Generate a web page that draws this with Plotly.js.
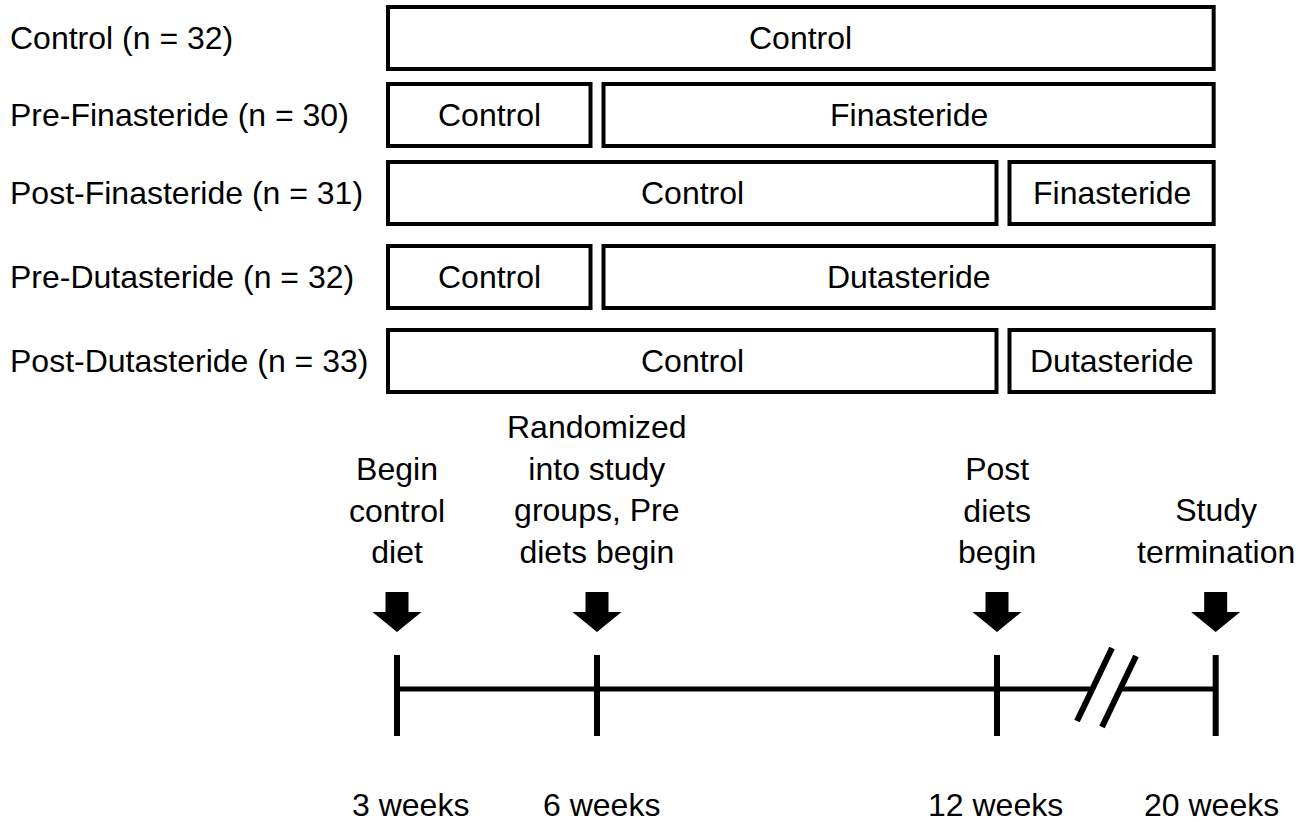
<!DOCTYPE html>
<html>
<head>
<meta charset="utf-8">
<script src="https://cdn.plot.ly/plotly-3.0.1.min.js"></script>
<style>html,body{margin:0;padding:0;background:#fff;}#chart{width:1310px;height:822px;}</style>
</head>
<body>
<div id="chart"></div>
<script>
// ---------- DATA ----------
const groups = ['Control (n = 32)', 'Pre-Finasteride (n = 30)', 'Post-Finasteride (n = 31)', 'Pre-Dutasteride (n = 32)', 'Post-Dutasteride (n = 33)'];
const phaseLabels = [['Control'], ['Control', 'Finasteride'], ['Control', 'Finasteride'], ['Control', 'Dutasteride'], ['Control', 'Dutasteride']];
const phaseWeeks = [[3, 20], [3, 6, 20], [3, 12, 20], [3, 6, 20], [3, 12, 20]];
const milestoneWeeks = [3, 6, 12, 20];
const milestoneNotes = [
  ['Begin', 'control', 'diet'],
  ['Randomized', 'into study', 'groups, Pre', 'diets begin'],
  ['Post', 'diets', 'begin'],
  ['Study', 'termination']
];
const weekLabels = ['3 weeks', '6 weeks', '12 weeks', '20 weeks'];

// ---------- LAYOUT CONSTANTS (geometry / style only) ----------
const W = 1310, H = 822;
const PX_PER_WEEK = 66.667;      // horizontal scale of the timeline
const WEEK3_PX = 397;            // where the first milestone sits
const BREAK_WEEK = 12, BREAK_FACTOR = 0.41; // axis break compresses weeks after 12
const X0 = 3 - WEEK3_PX / PX_PER_WEEK;
const X1 = 3 + (W - WEEK3_PX) / PX_PER_WEEK;
const rowTop = [7, 84, 162, 246, 330];
const ROW_H = 62;
const BOX_START_OFF = -9, BOX_END_OFF = -2, BOX_GAP = 13;
const BOUNDARY_SHIFT = {6: 0, 12: 6}; // small drawing offsets of the box splits
const LINE_Y = 689, TICK_TOP = 655, TICK_BOT = 736;
const ARROW = {top: 592, shaftBot: 612, tip: 632, shaftHalf: 11.5, headHalf: 24.5};
const NOTE_BASE_Y = 572;
const WEEK_LABEL_Y = 805;
const weekLabelShift = [13, 4, -2, -4];
const FONT = {family: 'Liberation Sans, Arial, sans-serif', size: 32, color: '#000'};

function wx(week) { // week -> axis value (with break after 12 weeks)
  return week <= BREAK_WEEK ? week : BREAK_WEEK + (week - BREAK_WEEK) * BREAK_FACTOR;
}
function pxOff(p) { return p / PX_PER_WEEK; } // pixel offset -> axis units
function pxAbs(p) { return X0 + p / PX_PER_WEEK; }

const shapes = [];
const annotations = [];

// group rows
groups.forEach((g, i) => {
  const y0 = rowTop[i], y1 = rowTop[i] + ROW_H, yc = (y0 + y1) / 2;
  annotations.push({x: 8 / W, xref: 'paper', y: yc, yref: 'y', text: g, showarrow: false,
    xanchor: 'left', yanchor: 'middle', font: FONT});
  const wks = phaseWeeks[i];
  for (let k = 0; k < wks.length - 1; k++) {
    let xa = wx(wks[k]), xb = wx(wks[k + 1]);
    xa += (k === 0) ? pxOff(BOX_START_OFF) : pxOff(BOX_GAP / 2 + (BOUNDARY_SHIFT[wks[k]] || 0));
    xb += (k === wks.length - 2) ? pxOff(BOX_END_OFF) : pxOff(-BOX_GAP / 2 + (BOUNDARY_SHIFT[wks[k + 1]] || 0));
    shapes.push({type: 'rect', xref: 'x', yref: 'y', x0: xa, x1: xb, y0: y0, y1: y1,
      line: {color: '#000', width: 4}, fillcolor: 'rgba(0,0,0,0)'});
    annotations.push({x: (xa + xb) / 2, y: yc, xref: 'x', yref: 'y', text: phaseLabels[i][k],
      showarrow: false, xanchor: 'center', yanchor: 'middle', font: FONT});
  }
});

// timeline line with break
const breakL = pxAbs(1090), breakR = pxAbs(1119);
shapes.push({type: 'line', xref: 'x', yref: 'y', x0: wx(milestoneWeeks[0]), x1: breakL, y0: LINE_Y, y1: LINE_Y, line: {color: '#000', width: 5}});
shapes.push({type: 'line', xref: 'x', yref: 'y', x0: breakR, x1: wx(milestoneWeeks[3]), y0: LINE_Y, y1: LINE_Y, line: {color: '#000', width: 5}});
// break slashes
shapes.push({type: 'line', xref: 'x', yref: 'y', x0: pxAbs(1112), y0: 648, x1: pxAbs(1077), y1: 721, line: {color: '#000', width: 6}});
shapes.push({type: 'line', xref: 'x', yref: 'y', x0: pxAbs(1136), y0: 656, x1: pxAbs(1102), y1: 727, line: {color: '#000', width: 6}});

// milestones
milestoneWeeks.forEach((w, i) => {
  const cx = wx(w);
  shapes.push({type: 'line', xref: 'x', yref: 'y', x0: cx, x1: cx, y0: TICK_TOP, y1: TICK_BOT, line: {color: '#000', width: 6}});
  const sh = pxOff(ARROW.shaftHalf), hh = pxOff(ARROW.headHalf);
  const path = `M ${cx - sh},${ARROW.top} L ${cx + sh},${ARROW.top} L ${cx + sh},${ARROW.shaftBot} L ${cx + hh},${ARROW.shaftBot} L ${cx},${ARROW.tip} L ${cx - hh},${ARROW.shaftBot} L ${cx - sh},${ARROW.shaftBot} Z`;
  shapes.push({type: 'path', xref: 'x', yref: 'y', path: path, fillcolor: '#000', line: {color: '#000', width: 0}});
  annotations.push({x: cx, y: NOTE_BASE_Y, xref: 'x', yref: 'y', text: milestoneNotes[i].join('<br>'),
    showarrow: false, xanchor: 'center', yanchor: 'bottom', align: 'center', font: FONT});
  annotations.push({x: cx + pxOff(weekLabelShift[i]), y: WEEK_LABEL_Y, xref: 'x', yref: 'y', text: weekLabels[i],
    showarrow: false, xanchor: 'center', yanchor: 'middle', font: FONT});
});

const layout = {
  width: W, height: H,
  margin: {l: 0, r: 0, t: 0, b: 0, pad: 0},
  paper_bgcolor: '#fff', plot_bgcolor: '#fff',
  showlegend: false,
  xaxis: {range: [X0, X1], visible: false, fixedrange: true},
  yaxis: {range: [H, 0], visible: false, fixedrange: true},
  shapes: shapes,
  annotations: annotations
};

Plotly.newPlot('chart', [{x: [], y: [], type: 'scatter', hoverinfo: 'skip'}], layout, {staticPlot: true, displayModeBar: false});
</script>
</body>
</html>
